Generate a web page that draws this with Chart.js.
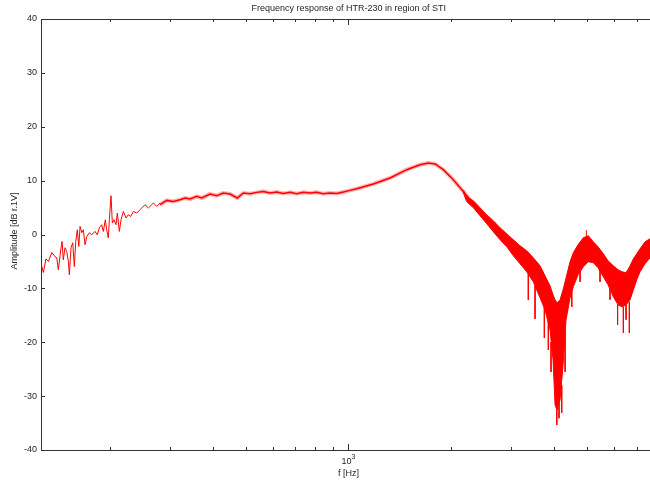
<!DOCTYPE html>
<html lang="en">
<head>
<meta charset="UTF-8">
<title>Frequency response of HTR-230</title>
<script src="https://cdn.jsdelivr.net/npm/chart.js"></script>
<style>
  html, body { margin: 0; padding: 0; background: #fff; }
  #wrap { width: 650px; height: 481px; }
</style>
</head>
<body>
<div id="wrap"><canvas id="freqChart" width="650" height="481"></canvas></div>
<script>
// Low end of the sweep: thin, noisy trace (Hz / dB)
const lowFreq = [126.0, 127.6, 129.9, 132.0, 135.1, 138.1, 139.7, 141.2, 143.5, 144.8,
  146.0, 147.7, 149.4, 151.1, 152.1, 153.8, 155.6, 157.3, 158.8, 160.5,
  162.1, 163.5, 165.4, 167.2, 169.1, 171.1, 174.1, 176.9, 180.9, 183.7,
  186.2, 189.2, 191.3, 193.9, 195.7, 197.9, 199.2, 201.5, 203.3, 205.6,
  208.4, 210.3, 213.1, 215.6, 219.0, 223.0, 226.5, 230.2, 234.3, 239.7,
  245.1, 253.5, 259.3, 268.2, 274.4, 280.5];
const lowAmp = [-5.62, -7.05, -4.51, -5.01, -3.34, -4.13, -4.32, -6.55, -2.83, -1.29,
  -4.69, -2.46, -3.15, -5.01, -7.48, -2.46, -1.53, -5.94, -1.29, 0.88,
  -2.22, 1.50, 0.33, 0.88, -1.90, -0.36, 0.33, -0.05, 0.57, -0.05,
  1.25, 1.81, 0.57, 2.74, 0.88, -0.66, 2.74, 7.20, 2.13, 2.74,
  1.81, 3.99, 0.57, 2.74, 4.28, 3.06, 3.67, 3.35, 4.28, 3.99,
  4.60, 5.53, 4.92, 5.84, 5.21, 5.84];

// Plateau and resonance peak
const midFreq = [280.5, 293.5, 306.9, 321.1, 332.1, 343.5, 359.4, 371.7, 393.1, 411.3,
  430.0, 450.0, 472.7, 492.3, 515.0, 538.9, 563.4, 589.4, 616.7, 644.7,
  674.6, 705.8, 738.1, 772.2, 808.0, 844.7, 883.7, 924.7, 966.7, 1011.6,
  1058.3, 1183.9, 1325.2, 1483.4, 1622.7, 1716.1, 1795.7, 1898.8, 2031.4, 2173.3,
  2274.2];
const midAmp = [5.53, 6.33, 6.14, 6.46, 6.77, 6.58, 7.07, 6.77, 7.52, 7.20,
  7.70, 7.52, 6.77, 7.70, 7.57, 7.82, 8.00, 7.70, 7.89, 7.63,
  7.82, 7.57, 7.82, 7.70, 7.82, 7.57, 7.70, 7.63, 7.89, 8.19,
  8.50, 9.38, 10.49, 12.03, 12.96, 13.28, 13.09, 12.03, 10.17, 8.00,
  6.46];

// High end: the trace spreads into a band, given by its upper and lower edge
const bandFreq = [2173, 2224, 2326, 2433, 2546, 2661, 2785, 2913, 3046, 3187,
  3334, 3486, 3648, 3773, 3903, 3983, 4037, 4092, 4175, 4261,
  4348, 4467, 4567, 4714, 4887, 5053, 5227, 5395, 5593, 5773,
  5984, 6177, 6346, 6520, 6698, 6849, 7007, 7165, 7412, 7665];
const bandTop = [8.2, 7.02, 6.27, 4.97, 3.67, 2.56, 1.25, 0.14, -0.97, -2.09,
  -3.02, -4.32, -5.81, -7.67, -9.53, -11.20, -12.13, -12.69, -12.13, -10.27,
  -8.04, -5.06, -3.39, -1.90, -0.60, -0.23, -1.35, -2.28, -3.58, -4.88,
  -5.81, -6.55, -6.92, -7.11, -5.81, -4.51, -3.58, -2.65, -1.35, -0.79];
const bandBottom = [7.8, 6.09, 4.97, 3.48, 2.00, 0.51, -0.97, -2.27, -3.95, -5.44,
  -6.92, -8.78, -11.76, -13.99, -17.70, -23.28, -31.64, -32.57, -30.71, -24.20,
  -15.84, -11.76, -9.71, -7.48, -5.99, -5.06, -5.25, -6.18, -7.85, -9.34,
  -11.57, -13.06, -13.43, -13.06, -12.13, -10.27, -8.41, -6.92, -5.44, -4.32];

// Single outliers sticking out of the band
const spikeFreq = [3370, 3527, 3755, 3858, 3929, 4084, 4147, 4223, 4320, 4519,
  4779, 4985, 5468, 5850, 6157, 6402, 6520, 6666];
const spikeFrom = [-7.2, -9.5, -13.5, -16.0, -20.0, -32.0, -31.0, -28.0, -18.0, -10.5,
  -6.5, -0.4, -6.5, -10.0, -13.0, -13.4, -13.0, -12.5];
const spikeTo = [-12.13, -15.66, -19.19, -21.42, -25.5, -35.37, -34.1, -33.1, -25.5, -13.43,
  -8.78, 0.8, -8.78, -12.1, -16.8, -18.26, -15.8, -18.26];

const yTicks = [-40, -30, -20, -10, 0, 10, 20, 30, 40];
const xMinorTicks = [200, 300, 400, 500, 600, 700, 800, 900, 2000, 3000, 4000, 5000, 6000, 7000];
const xMajorTick = 1000;
const xAxisEnd = 8000; // the axes box continues past the visible edge

const FONT = "'Liberation Sans', Arial, Helvetica, sans-serif";
const RED = '#ff0000';
const INK = '#262626';

const toPoints = (fs, vs) => fs.map((f, i) => ({ x: f, y: vs[i] }));

const spikePoints = [];
spikeFreq.forEach((f, i) => {
  spikePoints.push({ x: f, y: spikeFrom[i] }, { x: f, y: spikeTo[i] }, { x: f, y: null });
});

// box edge, inward tick marks and all text
const frame = {
  id: 'frame',
  afterDraw(chart) {
    const { ctx, chartArea: a, scales: { x, y } } = chart;
    ctx.save();
    ctx.strokeStyle = '#333';
    ctx.lineWidth = 1;
    ctx.beginPath();
    ctx.moveTo(a.left, a.top + 0.5);
    ctx.lineTo(a.right, a.top + 0.5);
    xMinorTicks.forEach(f => {
      const px = Math.round(x.getPixelForValue(f)) + 0.5;
      ctx.moveTo(px, a.bottom); ctx.lineTo(px, a.bottom - 3);
      ctx.moveTo(px, a.top); ctx.lineTo(px, a.top + 3);
    });
    const mx = Math.round(x.getPixelForValue(xMajorTick)) + 0.5;
    ctx.moveTo(mx, a.bottom); ctx.lineTo(mx, a.bottom - 6);
    ctx.moveTo(mx, a.top); ctx.lineTo(mx, a.top + 6);
    yTicks.forEach(v => {
      const py = Math.round(y.getPixelForValue(v)) + 0.5;
      ctx.moveTo(a.left, py); ctx.lineTo(a.left + 4, py);
    });
    ctx.stroke();

    ctx.fillStyle = INK;
    ctx.textBaseline = 'middle';
    ctx.textAlign = 'center';
    ctx.font = '9px ' + FONT;
    const cx = (a.left + x.getPixelForValue(xAxisEnd)) / 2;
    ctx.fillText('Frequency response of HTR-230 in region of STI', cx, 9);
    ctx.fillText('f [Hz]', mx, 474);

    // 10^3 label under the major tick
    const w10 = ctx.measureText('10').width;
    ctx.font = '7px ' + FONT;
    const w3 = ctx.measureText('3').width;
    const start = mx - (w10 + w3) / 2;
    ctx.textAlign = 'left';
    ctx.fillText('3', start + w10, 457);
    ctx.font = '9px ' + FONT;
    ctx.fillText('10', start, 462);

    ctx.translate(15, 231);
    ctx.rotate(-Math.PI / 2);
    ctx.textAlign = 'center';
    ctx.fillText('Amplitude [dB r.1V]', 0, 0);
    ctx.restore();
  }
};

new Chart(document.getElementById('freqChart'), {
  type: 'line',
  data: {
    datasets: [
      { data: toPoints(lowFreq, lowAmp), borderColor: RED, borderWidth: 1 },
      // soft halo of the noisy plateau, then the trace itself
      { data: toPoints(midFreq, midAmp), borderColor: 'rgba(255,0,0,0.3)', borderWidth: 4 },
      { data: toPoints(midFreq, midAmp), borderColor: RED, borderWidth: 1.5 },
      { data: toPoints(bandFreq, bandTop), borderColor: RED, borderWidth: 1 },
      { data: toPoints(bandFreq, bandBottom), borderColor: RED, borderWidth: 1,
        fill: '-1', backgroundColor: RED },
      { data: spikePoints, borderColor: RED, borderWidth: 1, spanGaps: false }
    ]
  },
  options: {
    responsive: false,
    animation: false,
    devicePixelRatio: 1,
    elements: { point: { radius: 0 }, line: { tension: 0 } },
    layout: { padding: { top: 19, left: 0, right: 0, bottom: 0 } },
    plugins: { legend: { display: false }, tooltip: { enabled: false }, title: { display: false } },
    scales: {
      x: {
        type: 'logarithmic',
        min: 125.6,
        max: 7663,
        ticks: { display: false },
        grid: { display: false, drawTicks: false },
        border: { display: true, color: '#333', width: 1 },
        afterFit(scale) { scale.height = 31; }
      },
      y: {
        min: -40,
        max: 40,
        afterBuildTicks(scale) { scale.ticks = yTicks.map(v => ({ value: v })); },
        ticks: { color: INK, font: { family: FONT, size: 9 }, padding: 4 },
        grid: { display: false, drawTicks: false },
        border: { display: true, color: '#333', width: 1 },
        afterFit(scale) { scale.width = 41; }
      }
    }
  },
  plugins: [frame]
});
</script>
</body>
</html>
